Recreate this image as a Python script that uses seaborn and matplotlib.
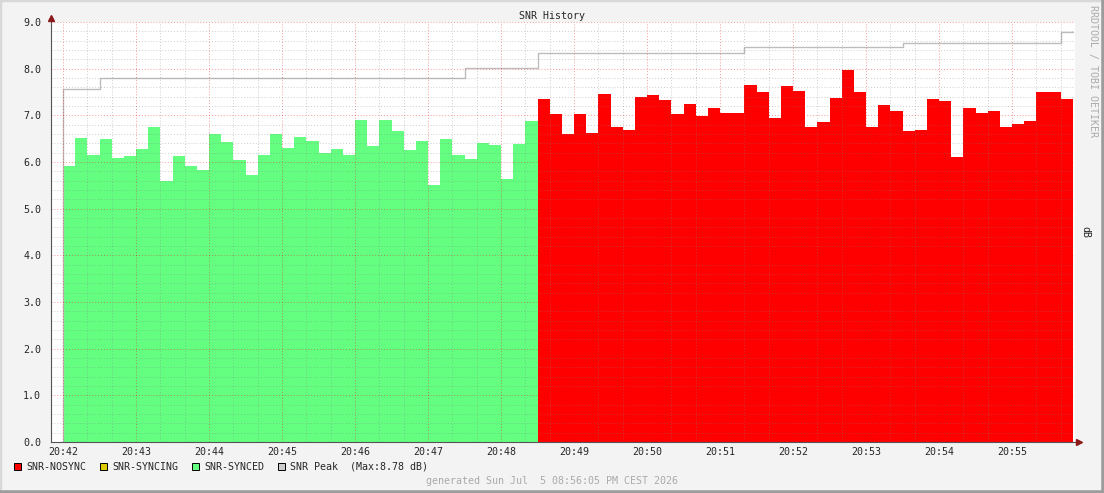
import numpy as np
import seaborn as sns
import matplotlib.pyplot as plt
from matplotlib.patches import Rectangle
from matplotlib.lines import Line2D
from matplotlib.ticker import MultipleLocator, FormatStrFormatter

# SNR samples, one every 10 s starting at 20:42:00 (dB)
synced_snr = [5.91, 6.51, 6.16, 6.49, 6.08, 6.12, 6.27, 6.76, 5.59, 6.12,
              5.91, 5.82, 6.61, 6.42, 6.04, 5.72, 6.16, 6.59, 6.31, 6.53,
              6.46, 6.19, 6.27, 6.14, 6.91, 6.34, 6.89, 6.66, 6.25, 6.44,
              5.50, 6.49, 6.16, 6.06, 6.40, 6.36, 5.63, 6.38, 6.87]
nosync_snr = [7.36, 7.02, 6.61, 7.02, 6.63, 7.45, 6.76, 6.68, 7.40, 7.43,
              7.32, 7.02, 7.25, 6.98, 7.15, 7.04, 7.04, 7.64, 7.51, 6.95,
              7.62, 7.53, 6.74, 6.85, 7.38, 7.98, 7.51, 6.74, 7.23, 7.10,
              6.66, 6.68, 7.34, 7.30, 6.10, 7.15, 7.04, 7.10, 6.74, 6.81,
              6.87, 7.49, 7.49, 7.34]
# running peak: level and how many samples it holds
peak_levels = [7.57, 7.80, 8.01, 8.33, 8.47, 8.54, 8.78]
peak_runs = [3, 30, 6, 17, 13, 13, 1]

start_minute = 42
step_minutes = 10 / 60
minute_ticks = list(range(42, 56))
tick_labels = [f"20:{m:02d}" for m in minute_ticks]

legend_labels = ["SNR-NOSYNC", "SNR-SYNCING", "SNR-SYNCED", "SNR Peak"]
legend_colors = ["#ff0000", "#dccc00", "#64ff80", "#cccccc"]
footer = "generated Sun Jul  5 08:56:05 PM CEST 2026"

peak = np.repeat(peak_levels, peak_runs)
n_sync = len(synced_snr)
n_total = n_sync + len(nosync_snr)
edges = start_minute + np.arange(n_total + 1) * step_minutes

sns.set_style("white")
plt.rcParams["font.family"] = ["DejaVu Sans Mono", "DejaVu Sans"]
plt.rcParams["font.size"] = 7.2

W, H = 1104, 493
fig = plt.figure(figsize=(W / 100, H / 100), dpi=100, facecolor="#f3f3f3")
ax = fig.add_axes([51 / W, 51 / H, 1024 / W, 420 / H])
ax.set_facecolor("white")

# areas
ax.fill_between(edges[:n_sync + 1], synced_snr + [synced_snr[-1]],
                step="post", color=legend_colors[2], lw=0, zorder=1)
ax.fill_between(edges[n_sync:], nosync_snr + [nosync_snr[-1]],
                step="post", color=legend_colors[0], lw=0, zorder=1)

# peak line
sns.lineplot(x=edges, y=np.append(peak, peak[-1]), drawstyle="steps-post",
             color="#bdbdbd", lw=1.0, ax=ax, zorder=2)
ax.vlines(edges[0], 0, peak[0], color="#bdbdbd", lw=1.0, zorder=2)

ax.set_xlim(start_minute - 12 / 73, start_minute + 1012 / 73)
ax.set_ylim(0, 9)

# grid
ax.yaxis.set_major_locator(MultipleLocator(1.0))
ax.yaxis.set_minor_locator(MultipleLocator(0.2))
ax.yaxis.set_major_formatter(FormatStrFormatter("%.1f"))
ax.set_xticks(minute_ticks)
ax.set_xticklabels(tick_labels)
ax.xaxis.set_minor_locator(MultipleLocator(1 / 3))
ax.set_axisbelow(False)
ax.grid(which="minor", color="#808080", alpha=0.4, lw=0.7, ls=(0, (1, 2)))
ax.grid(which="major", color="#f00000", alpha=0.4, lw=0.7, ls=(0, (1, 2)))

for s in ["top", "right"]:
    ax.spines[s].set_visible(False)
for s in ["left", "bottom"]:
    ax.spines[s].set_color("#555555")
    ax.spines[s].set_linewidth(0.8)
    ax.spines[s].set_zorder(4)
ax.tick_params(which="major", length=2, width=0.7, color="#a04040", pad=1.5)
ax.tick_params(which="minor", length=1.5, width=0.6, color="#888888")
ax.tick_params(axis="y", which="major", pad=5)
ax.set_xlabel("")
ax.set_ylabel("")

# axis arrows
ax.plot([0], [1.009], marker="^", ms=4.5, color="#8b1a1a", transform=ax.transAxes,
        clip_on=False, zorder=5)
ax.plot([1.004], [0], marker=">", ms=4.5, color="#8b1a1a", transform=ax.transAxes,
        clip_on=False, zorder=5)

# texts
fig.text(552 / W, 1 - 16 / H, "SNR History", ha="center", va="center")
fig.text(1085 / W, 1 - 232 / H, "dB", rotation=270, ha="center", va="center")
fig.text(1093 / W, 1 - 5 / H, "RRDTOOL / TOBI OETIKER", rotation=270,
         ha="center", va="top", color="#aaaaaa")
fig.text(552 / W, 1 - 481 / H, footer, ha="center", va="center", color="#aaaaaa")

# legend
legend_x = [13.5, 100, 191.5, 278]
for x, lab, col in zip(legend_x, legend_labels, legend_colors):
    fig.patches.append(Rectangle((x / W, 1 - 470 / H), 7 / W, 7 / H,
                                 facecolor=col, edgecolor="black", lw=0.7,
                                 transform=fig.transFigure))
    txt = lab
    if lab == "SNR Peak":
        txt = f"{lab}  (Max:{peak.max():.2f} dB)"
    fig.text((x + 12.5) / W, 1 - 466.5 / H, txt, ha="left", va="center")

# 3d-ish border
fig.add_artist(Line2D([0, 0, 1], [0, 1, 1], color="#d8d8d8", lw=2.5,
                      transform=fig.transFigure))
fig.add_artist(Line2D([0, 1, 1], [0, 0, 1], color="#9c9c9c", lw=4,
                      transform=fig.transFigure))

fig.savefig("out.png", dpi=100, facecolor=fig.get_facecolor())
